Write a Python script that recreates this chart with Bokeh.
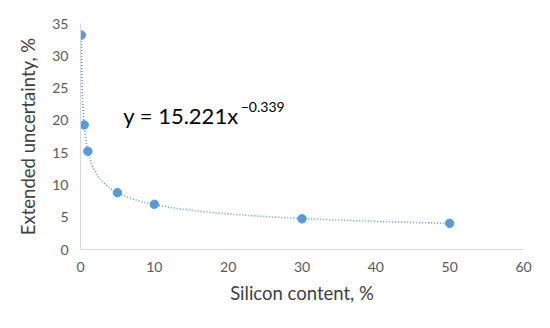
from bokeh.plotting import figure
from bokeh.models import Range1d, Label, FixedTicker
from bokeh.embed import file_html
from bokeh.resources import INLINE
import numpy as np

# Data
silicon = [0.1, 0.5, 1, 5, 10, 30, 50]
uncertainty = [33.2, 19.3, 15.2, 8.8, 7.0, 4.75, 4.05]
fit_coef = 15.221
fit_exp = -0.339
x_ticks = [0, 10, 20, 30, 40, 50, 60]
y_ticks = [0, 5, 10, 15, 20, 25, 30, 35]

FONT = "Lato"
BLUE = "#5B9BD5"

p = figure(width=534, height=312, output_backend="svg", toolbar_location=None,
           x_range=Range1d(0, 60), y_range=Range1d(0, 35),
           min_border_left=72, min_border_right=19, min_border_top=15, min_border_bottom=71)
p.outline_line_color = None
p.border_fill_color = "white"
p.background_fill_color = "white"
p.xgrid.visible = False
p.ygrid.visible = False

# trendline from the displayed power fit
xs = np.linspace(min(silicon), max(silicon), 600)
ys = fit_coef * xs ** fit_exp
p.line(xs, ys, line_color=BLUE, line_width=1.6, line_dash="1 2")
p.scatter(silicon, uncertainty, size=8.5, fill_color=BLUE, line_color=BLUE)

for ax in (p.xaxis[0], p.yaxis[0]):
    ax.axis_line_color = "#D9D9D9"
    ax.axis_line_width = 1
    ax.major_tick_line_color = None
    ax.minor_tick_line_color = None
    ax.major_tick_out = 0
    ax.major_tick_in = 0
    ax.major_label_text_font = FONT
    ax.major_label_text_font_size = "14px"
    ax.major_label_text_color = "#595959"
    ax.axis_label_text_font = FONT
    ax.axis_label_text_font_size = "18.5px"
    ax.axis_label_text_font_style = "normal"
    ax.axis_label_text_color = "#404040"

p.xaxis.ticker = FixedTicker(ticks=x_ticks)
p.yaxis.ticker = FixedTicker(ticks=y_ticks)
p.xaxis.axis_label = "Silicon content, %"
p.yaxis.axis_label = "Extended uncertainty, %"
p.xaxis.major_label_standoff = 12
p.yaxis.major_label_standoff = 12
p.xaxis.axis_label_standoff = 7
p.yaxis.axis_label_standoff = 10

p.add_layout(Label(x=5.8, y=20.7, text="y = 15.221x", text_font=FONT,
                   text_font_size="22px", text_color="black", text_baseline="alphabetic"))
p.add_layout(Label(x=21.7, y=22.0, text="\u22120.339", text_font=FONT,
                   text_font_size="14px", text_color="black", text_baseline="alphabetic"))

html = file_html(p, INLINE)
html = html.replace("<body>", "<body style=\"margin:8px\">")
open("out.html", "w").write(html)
